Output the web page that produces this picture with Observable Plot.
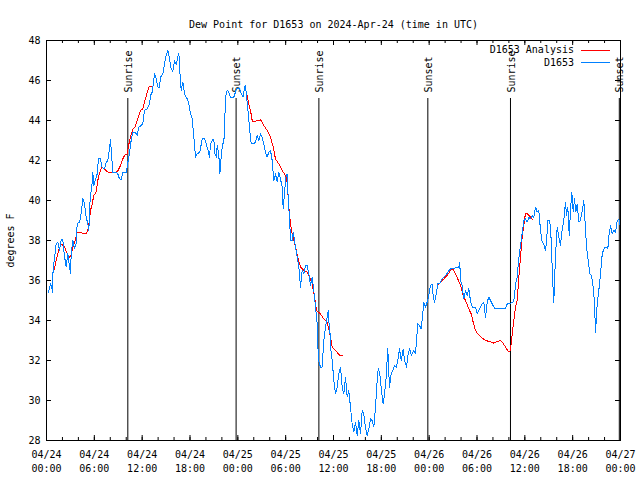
<!DOCTYPE html>
<html><head><meta charset="utf-8">
<script src="https://cdn.jsdelivr.net/npm/d3@7"></script>
<script src="https://cdn.jsdelivr.net/npm/@observablehq/plot@0.6"></script>
<style>html,body{margin:0;padding:0;background:#fff}svg{display:block}</style>
</head><body><div id="chart"></div>
<script>
const title = "Dew Point for D1653 on 2024-Apr-24 (time in UTC)";
const yLabel = "degrees F";
const startUTC = "2024-04-24T00:00:00Z";
const spanHours = 72;
const yDomain = [28, 48];
const yTicks = [28, 30, 32, 34, 36, 38, 40, 42, 44, 46, 48];
const seriesNames = ["D1653 Analysis", "D1653"];
const seriesColors = ["#ff0000", "#0080ff"];

// observed series: hours since start, dew point (°F)
const obsHours = [0.25,0.50,0.79,0.82,1.22,1.42,1.63,1.84,2.04,2.26,2.47,2.67,2.89,3.01,3.10,3.30,3.51,3.73,3.85,4.14,4.35,4.55,4.77,4.98,5.18,5.31,5.48,5.68,5.81,5.93,6.11,6.36,6.52,6.77,6.94,7.28,7.49,7.69,7.90,8.03,8.12,8.32,8.74,8.94,9.16,9.37,9.57,10.0,10.20,10.41,10.54,10.83,11.13,11.38,11.58,11.88,12.08,12.29,12.63,12.92,13.05,13.26,13.55,13.76,13.96,14.17,14.30,14.59,14.80,15.01,15.22,15.43,15.64,15.84,16.06,16.27,16.47,16.60,16.72,16.90,17.10,17.31,17.65,17.81,18.03,18.28,18.48,18.69,18.90,19.23,19.53,19.82,20.03,20.28,20.45,20.57,20.78,20.99,21.11,21.32,21.41,21.61,21.74,21.91,22.08,22.24,22.37,22.49,22.67,22.87,23.08,23.50,23.83,24.25,24.42,24.67,24.84,24.96,25.17,25.38,25.50,25.68,26.00,26.22,26.43,26.63,26.84,27.05,27.26,27.47,27.68,27.88,28.10,28.31,28.51,28.72,28.94,29.14,29.35,29.56,29.69,29.85,30.02,30.19,30.27,30.39,30.52,30.61,30.82,30.95,31.11,31.27,31.52,31.70,31.86,32.07,32.28,32.49,32.70,32.90,33.12,33.33,33.53,33.74,33.96,34.03,34.12,34.37,34.58,34.78,35.00,35.21,35.34,35.41,35.54,35.71,35.84,36.04,36.25,36.46,36.67,36.88,37.09,37.29,37.51,37.72,37.92,38.13,38.34,38.55,38.76,38.97,39.17,39.39,39.60,39.80,40.01,40.23,40.43,40.64,40.86,41.06,41.27,41.48,41.61,41.81,42.02,42.23,42.40,42.61,42.81,43.02,43.24,43.44,43.65,43.87,44.07,44.28,44.49,44.74,44.91,45.16,45.37,45.57,45.78,46.07,46.29,46.41,46.58,46.79,47.00,47.16,47.33,47.54,47.75,47.95,48.17,48.38,48.51,48.67,48.88,49.08,49.33,49.64,49.84,50.09,50.34,50.68,51.02,51.30,51.52,51.72,51.84,51.93,52.14,52.34,52.56,52.77,52.97,53.18,53.40,53.81,54.02,54.23,54.44,54.65,54.85,55.07,55.28,55.48,55.69,55.91,56.11,56.32,56.95,57.57,57.79,57.99,58.20,58.54,58.70,58.83,59.04,59.21,59.37,59.55,59.71,59.87,60.08,60.30,60.50,60.71,60.92,61.12,61.34,61.55,61.75,61.97,62.18,62.38,62.59,62.72,62.88,63.13,63.31,63.47,63.63,63.85,64.06,64.26,64.47,64.69,64.89,65.10,65.23,65.39,65.57,65.73,65.89,66.07,66.23,66.40,66.57,66.78,66.98,67.20,67.40,67.57,67.74,67.95,68.15,68.36,68.58,68.74,68.87,69.08,69.28,69.49,69.71,69.91,70.12,70.41,70.53,70.74,70.96,71.16,71.38,71.59,71.79,72.0];
const obsValues = [35.4,35.85,35.4,36.5,37.85,37.9,37.5,38.05,38.05,37.2,36.7,37.35,36.7,36.35,37.35,38.0,37.6,37.85,38.85,38.9,39.35,40.1,39.85,39.15,38.85,38.5,40.15,40.65,41.4,40.75,41.0,41.33,42.1,42.1,41.67,41.58,41.9,42.0,42.6,43.05,42.5,41.4,41.4,41.33,41.08,41.05,41.4,41.4,41.9,42.33,42.83,43.42,43.42,43.25,43.67,43.75,43.83,44.5,44.58,44.83,45.25,45.42,46.33,46.08,45.67,45.67,46.17,46.33,46.83,47.25,47.5,47.08,46.58,46.47,47.0,46.8,47.17,47.37,46.5,45.5,45.92,45.33,45.08,44.92,44.42,44.08,43.17,42.17,42.33,42.42,43.08,43.08,42.83,42.5,42.17,42.83,43.0,43.08,42.33,42.17,42.75,42.33,41.33,42.17,42.83,42.83,44.17,45.25,45.5,45.42,45.17,45.17,45.58,45.58,45.33,45.17,45.67,45.75,44.92,44.0,43.5,42.83,42.83,42.92,43.25,43.0,43.33,43.17,42.83,42.42,42.17,42.42,42.5,42.0,41.0,41.33,40.92,41.42,41.08,40.67,39.58,40.33,41.17,41.33,40.5,39.67,38.83,38.0,38.0,38.42,38.0,37.58,37.0,36.5,35.67,36.5,36.33,36.75,36.75,36.33,35.75,36.17,35.5,34.67,33.83,32.83,32.0,31.67,31.67,33.0,33.67,34.17,34.5,34.0,33.5,32.33,32.0,31.0,30.33,30.67,31.33,31.67,30.67,30.33,31.17,30.17,30.5,29.67,28.83,28.42,28.92,28.25,29.0,28.33,29.5,29.33,28.67,28.25,28.58,29.08,29.0,28.67,29.67,31.0,31.58,31.33,30.5,29.83,30.33,31.17,32.58,30.67,31.33,31.5,31.75,31.67,32.0,32.58,32.0,32.58,32.0,31.67,32.33,32.58,32.25,32.5,32.33,33.0,33.83,33.75,33.58,34.17,34.92,34.67,34.92,35.25,35.75,35.83,35.17,34.92,35.33,35.83,35.83,36.08,36.17,36.25,36.42,36.58,36.58,36.63,36.63,36.67,36.92,36.0,35.75,35.08,35.5,35.25,35.58,35.0,34.67,34.67,34.33,34.5,34.67,34.83,34.92,34.17,34.92,35.17,35.0,34.83,34.67,34.58,34.58,34.58,34.83,34.87,34.87,34.92,35.17,35.83,36.17,37.0,37.5,38.0,38.5,39.0,39.08,38.92,39.17,39.08,39.25,39.17,39.67,39.42,39.5,38.5,37.92,37.83,37.5,37.92,39.0,39.0,38.0,36.17,34.92,37.25,38.67,38.17,37.75,38.58,39.0,39.92,39.25,39.67,38.25,39.5,40.42,39.42,40.08,39.42,39.83,38.92,39.0,39.5,40.0,38.83,37.67,37.0,36.33,36.25,35.67,34.83,33.42,34.83,35.5,36.33,37.33,37.58,37.67,37.58,38.17,38.75,38.33,38.5,38.42,39.0,39.08,38.67];

// analysis series (null = gap)
const anaHours = [0.92,1.22,1.51,1.84,2.26,2.60,2.89,3.10,3.30,3.60,3.85,4.26,4.68,5.02,5.27,5.52,5.73,5.93,6.23,6.43,6.69,6.94,7.28,7.69,8.12,8.53,8.94,9.28,9.57,9.78,10.12,10.29,10.54,10.83,11.13,11.45,11.79,12.08,12.29,12.58,12.83,13.13,19.0,24.96,25.17,25.38,25.59,25.80,26.00,26.43,26.84,27.05,27.26,27.68,28.10,28.44,28.72,29.14,29.56,29.98,30.19,30.39,30.61,30.82,31.23,31.52,31.86,32.28,32.70,33.03,33.33,33.62,33.87,34.37,34.78,35.21,35.54,35.84,36.25,36.79,37.09,43.0,49.08,49.42,49.84,50.26,50.68,50.97,51.30,51.59,51.93,52.27,52.56,52.97,53.27,53.52,53.81,54.10,54.53,54.94,55.36,55.79,56.11,56.53,56.95,57.16,57.45,57.70,57.99,58.20,58.33,58.46,58.62,58.83,59.04,59.25,59.46,59.67,59.87,60.08,60.30,60.71,61.00];
const anaValues = [36.5,37.0,37.5,37.83,37.67,37.33,37.17,37.25,37.67,38.0,38.42,38.42,38.33,38.33,38.67,39.5,39.83,40.25,40.42,41.0,41.42,41.67,41.58,41.42,41.38,41.38,41.47,41.75,42.08,42.25,42.33,42.75,43.17,43.58,43.7,44.08,44.5,44.58,44.92,45.33,45.67,45.7,null,45.58,45.25,44.83,44.5,44.0,43.92,44.0,44.03,43.92,43.75,43.5,43.17,42.67,42.08,41.83,41.5,41.25,40.92,39.67,38.83,38.33,37.67,37.17,36.67,36.5,36.42,36.17,35.83,35.17,34.5,34.33,34.08,33.92,33.33,32.67,32.5,32.25,32.25,null,35.75,35.92,36.08,36.25,36.5,36.58,36.33,36.08,35.75,35.25,35.0,34.58,34.33,33.92,33.5,33.33,33.17,33.03,32.97,32.92,32.87,32.95,33.0,32.92,32.75,32.58,32.42,32.5,33.0,33.5,34.0,34.67,35.0,36.17,37.17,38.17,38.75,39.37,39.33,39.17,39.03];

const eventLabels = ["Sunrise", "Sunset", "Sunrise", "Sunset", "Sunrise", "Sunset"];
const eventTimes = ["2024-04-24T10:12:00Z", "2024-04-24T23:47:00Z", "2024-04-25T10:10:00Z", "2024-04-25T23:50:00Z", "2024-04-26T10:12:00Z", "2024-04-26T23:51:00Z"];

const t0 = new Date(startUTC);
const toDate = h => new Date(+t0 + h * 3600e3);
const t1 = toDate(spanHours);
const obs = obsHours.map((h, i) => ({time: toDate(h), value: obsValues[i]}));
const ana = anaHours.map((h, i) => ({time: toDate(h), value: anaValues[i]}));
const events = eventTimes.map((t, i) => ({time: new Date(t), label: eventLabels[i]}));
const majorTicks = d3.utcHour.every(6).range(t0, new Date(+t1 + 1));
const minorTicks = d3.utcHour.every(2).range(t0, new Date(+t1 + 1));

const W = 640, H = 480, mL = 46, mR = 20, mT = 40, mB = 40;
const fh = H - mT - mB, fw = W - mL - mR;
const font = "'DejaVu Sans Mono', monospace";

const chart = Plot.plot({
  width: W, height: H,
  marginLeft: mL, marginRight: mR, marginTop: mT, marginBottom: mB,
  style: {fontFamily: font, fontSize: "10px", color: "black", background: "white", overflow: "visible"},
  x: {type: "utc", domain: [t0, t1]},
  y: {domain: yDomain},
  marks: [
    Plot.axisX({ticks: majorTicks, tickFormat: d3.utcFormat("%m/%d\n%H:%M"), tickSize: 0, tickPadding: 8, lineHeight: 1.4, label: null}),
    Plot.axisY({ticks: yTicks, tickSize: 0, tickPadding: 6, label: yLabel, labelAnchor: "center", labelOffset: 40, labelArrow: "none"}),
    Plot.tickX(minorTicks, {x: d => d, insetTop: fh - 3, stroke: "black"}),
    Plot.tickX(minorTicks, {x: d => d, insetBottom: fh - 3, stroke: "black"}),
    Plot.tickX(majorTicks, {x: d => d, insetTop: fh - 5, stroke: "black"}),
    Plot.tickX(majorTicks, {x: d => d, insetBottom: fh - 5, stroke: "black"}),
    Plot.tickY(yTicks, {y: d => d, insetRight: fw - 5, stroke: "black"}),
    Plot.tickY(yTicks, {y: d => d, insetLeft: fw - 5, stroke: "black"}),
    Plot.tickX(events, {x: "time", insetTop: 58, stroke: "black"}),
    Plot.text(events, {x: "time", text: "label", frameAnchor: "top", dy: 52, dx: -3, rotate: -90, textAnchor: "start", fill: "black"}),
    Plot.line(ana, {x: "time", y: "value", stroke: seriesColors[0], strokeWidth: 1, shapeRendering: "crispEdges"}),
    Plot.line(obs, {x: "time", y: "value", stroke: seriesColors[1], strokeWidth: 1, shapeRendering: "crispEdges"}),
    Plot.frame({stroke: "black"}),
    Plot.text([title], {text: d => d, frameAnchor: "top", dy: -20, fill: "black"})
  ]
});

const svg = d3.select(chart);
const lg = svg.append("g").attr("font-family", font).attr("font-size", 10);
seriesNames.forEach((name, i) => {
  const y = mT + 10 + i * 12.7;
  lg.append("text").attr("x", W - mR - 46).attr("y", y).attr("dy", "0.32em").attr("text-anchor", "end").attr("fill", "black").text(name);
  lg.append("line").attr("x1", W - mR - 39).attr("x2", W - mR - 10).attr("y1", y).attr("y2", y).attr("stroke", seriesColors[i]).attr("shape-rendering", "crispEdges");
});
document.getElementById("chart").appendChild(chart);
</script>
</body></html>
